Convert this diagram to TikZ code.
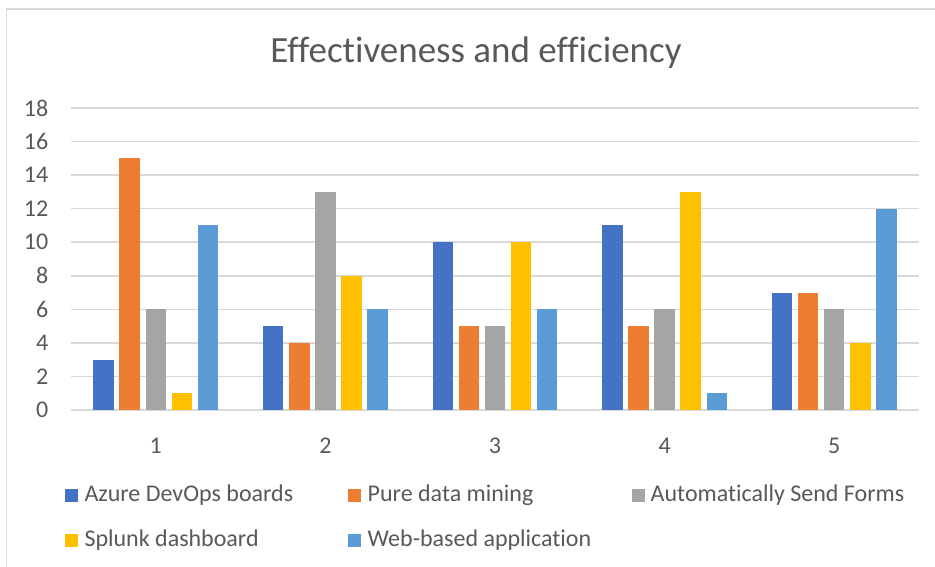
\documentclass[tikz,border=0pt]{standalone}
\usepackage{fontspec}
\setmainfont{Carlito}[Ligatures=CommonOff]
\definecolor{sA}{HTML}{4472C4}
\definecolor{sB}{HTML}{ED7D31}
\definecolor{sC}{HTML}{A5A5A5}
\definecolor{sD}{HTML}{FFC000}
\definecolor{sE}{HTML}{5B9BD5}
\definecolor{txt}{HTML}{595959}
\definecolor{grid}{HTML}{D9D9D9}
\begin{document}
\begin{tikzpicture}[x=1pt,y=-1pt,
  ticklab/.style={font=\fontsize{24}{26}\selectfont, text=txt, anchor=east, inner sep=0pt},
  catlab/.style={font=\fontsize{24}{26}\selectfont, text=txt, inner sep=0pt},
  legtext/.style={font=\fontsize{24}{26}\selectfont, text=txt, anchor=west, inner sep=0pt},
  legkey/.style={minimum width=13pt, minimum height=13pt, inner sep=0pt, draw=none},
  gridline/.style={draw=grid, line width=1.6pt}]
\useasboundingbox (0,0) rectangle (935,567);
\fill[white] (0,0) rectangle (935,567);
% chart frame (runs off the right and bottom)
\draw[grid, line width=1.5pt] (6.5,580) -- (6.5,9) -- (945,9);
% title
\node[font=\fontsize{37}{40}\selectfont, text=txt] (title) at (476,53) {Effectiveness and efficiency};
% value axis: gridlines and labels
\foreach \v in {0,2,...,18} {
  \draw[gridline] (71,{410-\v*16.78}) -- (919,{410-\v*16.78});
  \node[ticklab] (t\v) at (48.5,{410-\v*16.78}) {\v};
}
% bars: one group per category, five series
\foreach \g/\va/\vb/\vc/\vd/\ve in {1/3/15/6/1/11, 2/5/4/13/8/6, 3/10/5/5/10/6, 4/11/5/6/13/1, 5/7/7/6/4/12} {
  \pgfmathsetmacro{\cx}{155.8+169.6*(\g-1)}
  \foreach \j/\val/\col in {0/\va/sA, 1/\vb/sB, 2/\vc/sC, 3/\vd/sD, 4/\ve/sE} {
    \fill[\col] ({\cx+(\j-2)*26.1-10.25},410) rectangle ({\cx+(\j-2)*26.1+10.25},{410-\val*16.78});
  }
  \node[catlab] (c\g) at (\cx,446) {\g};
}
% legend
\node[legkey, fill=sA] (kA) at (71,495) {};
\node[legtext] (lA) at (84.3,495) {Azure DevOps boards};
\node[legkey, fill=sB] (kB) at (354.5,495) {};
\node[legtext] (lB) at (367.5,495) {Pure data mining};
\node[legkey, fill=sC] (kC) at (638.5,495) {};
\node[legtext] (lC) at (650.5,495) {Automatically Send Forms};
\node[legkey, fill=sD] (kD) at (71,540) {};
\node[legtext] (lD) at (84.3,540) {Splunk dashboard};
\node[legkey, fill=sE] (kE) at (354.5,540) {};
\node[legtext] (lE) at (367.5,540) {Web-based application};
\end{tikzpicture}
\end{document}
